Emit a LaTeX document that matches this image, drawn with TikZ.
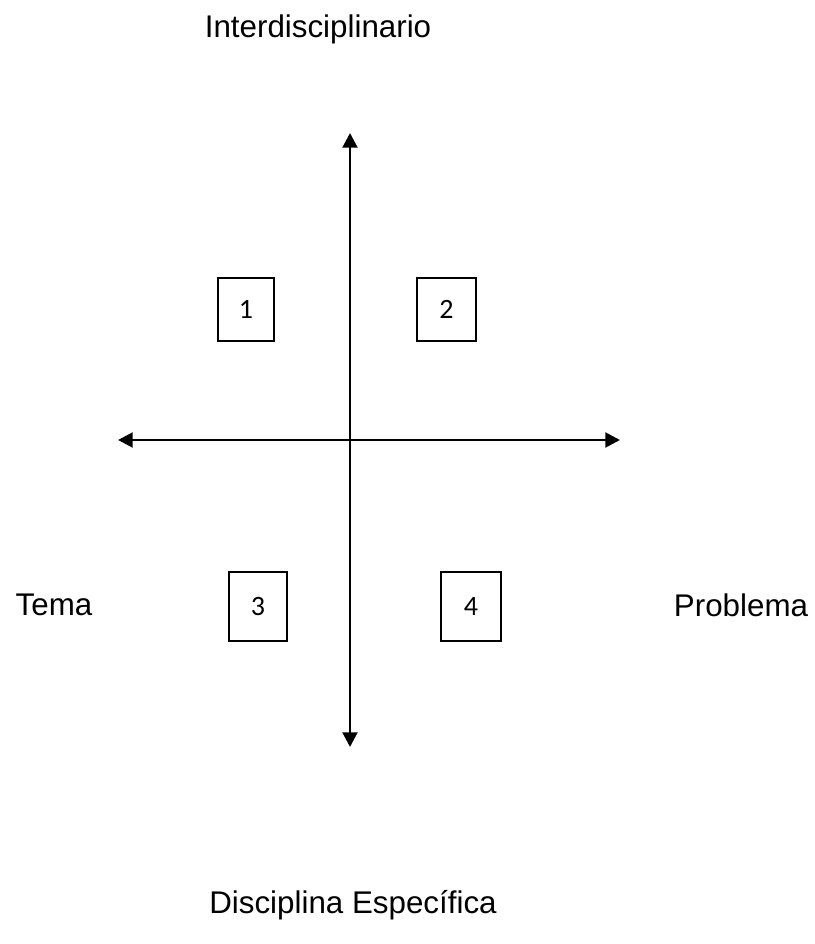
\documentclass[tikz,border=0pt]{standalone}
\usepackage{fontspec}
\setmainfont{Liberation Sans}
\newfontfamily\boxfont{Carlito}
\usetikzlibrary{arrows.meta}
\begin{document}
\begin{tikzpicture}[x=0.75pt,y=-0.75pt,
  axis/.style={line width=2.2pt,{Triangle[length=11pt,width=11pt]}-{Triangle[length=11pt,width=11pt]}},
  qbox/.style={draw,line width=1.3pt,rectangle,inner sep=0pt,font=\boxfont\fontsize{21}{25}\selectfont},
  lbl/.style={font=\fontsize{23.5}{28}\selectfont,inner sep=0pt}]
\useasboundingbox (0,0) rectangle (814,944);
\coordinate (top) at (350,133);
\coordinate (bot) at (350,747);
\coordinate (left) at (118,440);
\coordinate (right) at (620,440);
\draw[axis] (bot) -- (top);
\draw[axis] (left) -- (right);
\node[qbox,minimum width=42pt,minimum height=47pt] (b1) at (246,309.5) {1};
\node[qbox,minimum width=44pt,minimum height=47pt] (b2) at (446.5,309.5) {2};
\node[qbox,minimum width=43pt,minimum height=52pt] (b3) at (258,606.5) {3};
\node[qbox,minimum width=45pt,minimum height=52pt] (b4) at (471,606.5) {4};
\node[lbl] (inter) at (318,29) {Interdisciplinario};
\node[lbl] (tema) at (54,605) {Tema};
\node[lbl] (prob) at (741,605) {Problema};
\node[lbl] (disc) at (353,905) {Disciplina Específica};
\end{tikzpicture}
\end{document}
